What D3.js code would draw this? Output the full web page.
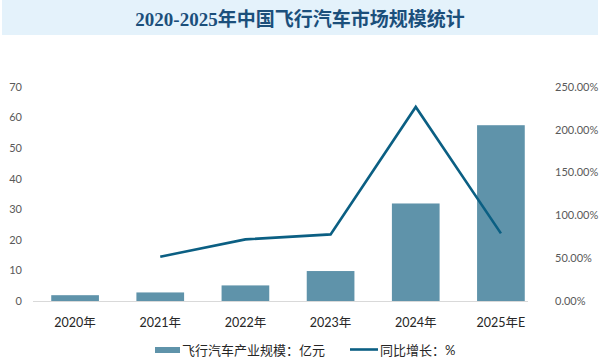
<!DOCTYPE html>
<html>
<head>
<meta charset="utf-8">
<script src="https://cdn.jsdelivr.net/npm/d3@7"></script>
<style>
  body { margin: 0; background: #fff; }
  svg { display: block; }
</style>
</head>
<body>
<div id="chart"></div>
<script>
// chart data
const categories = ["2020年", "2021年", "2022年", "2023年", "2024年", "2025年E"];
const scaleValues = [1.9, 2.8, 5.1, 9.8, 31.9, 57.5];          // 亿元
const growthValues = [null, 51.8, 72.0, 77.8, 226.7, 79.0];     // %
const leftTicks = [0, 10, 20, 30, 40, 50, 60, 70];
const rightTicks = [0, 50, 100, 150, 200, 250];
const titleText = "2020-2025年中国飞行汽车市场规模统计";
const barLegend = "飞行汽车产业规模：亿元";
const lineLegend = "同比增长：%";

const width = 600, height = 362;
const barColor = "#5f93aa";
const lineColor = "#0b5f83";
const labelFont = "Lato, 'Noto Sans CJK SC', sans-serif";

const svg = d3.select("#chart").append("svg")
  .attr("width", width)
  .attr("height", height);

// title band
svg.append("rect")
  .attr("x", 2).attr("y", 0)
  .attr("width", 596).attr("height", 35)
  .attr("fill", "#e4f2fb");

svg.append("text")
  .attr("x", 300).attr("y", 25.5)
  .attr("text-anchor", "middle")
  .attr("font-family", "'Liberation Serif', 'Noto Sans CJK SC', serif")
  .attr("font-weight", "bold")
  .attr("font-size", 19)
  .attr("fill", "#1b4f7b")
  .text(titleText);

// scales
const x = d3.scaleBand()
  .domain(categories)
  .range([32.5, 543.5])
  .paddingInner(0.44)
  .paddingOuter(0.22);

const yLeft = d3.scaleLinear().domain([0, 70]).range([301, 87]);
const yRight = d3.scaleLinear().domain([0, 250]).range([301, 87]);

// left axis labels
svg.append("g")
  .selectAll("text")
  .data(leftTicks)
  .join("text")
  .attr("x", 22)
  .attr("y", d => yLeft(d))
  .attr("dy", "0.35em")
  .attr("text-anchor", "end")
  .attr("font-family", labelFont)
  .attr("font-size", 11)
  .attr("fill", "#595959")
  .text(d => d);

// right axis labels
svg.append("g")
  .selectAll("text")
  .data(rightTicks)
  .join("text")
  .attr("x", 555)
  .attr("y", d => yRight(d))
  .attr("dy", "0.35em")
  .attr("text-anchor", "start")
  .attr("font-family", labelFont)
  .attr("font-size", 11)
  .attr("fill", "#595959")
  .text(d => d.toFixed(2) + "%");

// baseline
svg.append("line")
  .attr("x1", 33).attr("x2", 528)
  .attr("y1", yLeft(0) + 0.5).attr("y2", yLeft(0) + 0.5)
  .attr("stroke", "#d9d9d9")
  .attr("stroke-width", 1);

// bars
svg.append("g")
  .selectAll("rect")
  .data(categories)
  .join("rect")
  .attr("x", d => x(d))
  .attr("width", x.bandwidth())
  .attr("y", (d, i) => yLeft(scaleValues[i]))
  .attr("height", (d, i) => yLeft(0) - yLeft(scaleValues[i]))
  .attr("fill", barColor);

// growth line
const line = d3.line()
  .defined(d => d.v !== null)
  .x(d => x(d.c) + x.bandwidth() / 2)
  .y(d => yRight(d.v));

svg.append("path")
  .datum(categories.map((c, i) => ({ c, v: growthValues[i] })))
  .attr("d", line)
  .attr("fill", "none")
  .attr("stroke", lineColor)
  .attr("stroke-width", 2.6)
  .attr("stroke-linejoin", "miter");

// category labels
svg.append("g")
  .selectAll("text")
  .data(categories)
  .join("text")
  .attr("x", d => x(d) + x.bandwidth() / 2)
  .attr("y", 327)
  .attr("text-anchor", "middle")
  .attr("font-family", labelFont)
  .attr("font-size", 12.5)
  .attr("fill", "#262626")
  .text(d => d);

// legend
const legend = svg.append("g").attr("font-family", labelFont).attr("font-size", 13).attr("fill", "#262626");
legend.append("rect")
  .attr("x", 155).attr("y", 347)
  .attr("width", 25).attr("height", 6)
  .attr("fill", barColor);
legend.append("text")
  .attr("x", 182).attr("y", 354.5)
  .text(barLegend);
legend.append("line")
  .attr("x1", 350).attr("x2", 378)
  .attr("y1", 349.5).attr("y2", 349.5)
  .attr("stroke", lineColor)
  .attr("stroke-width", 2.6);
legend.append("text")
  .attr("x", 380).attr("y", 354.5)
  .text(lineLegend);
</script>
</body>
</html>
